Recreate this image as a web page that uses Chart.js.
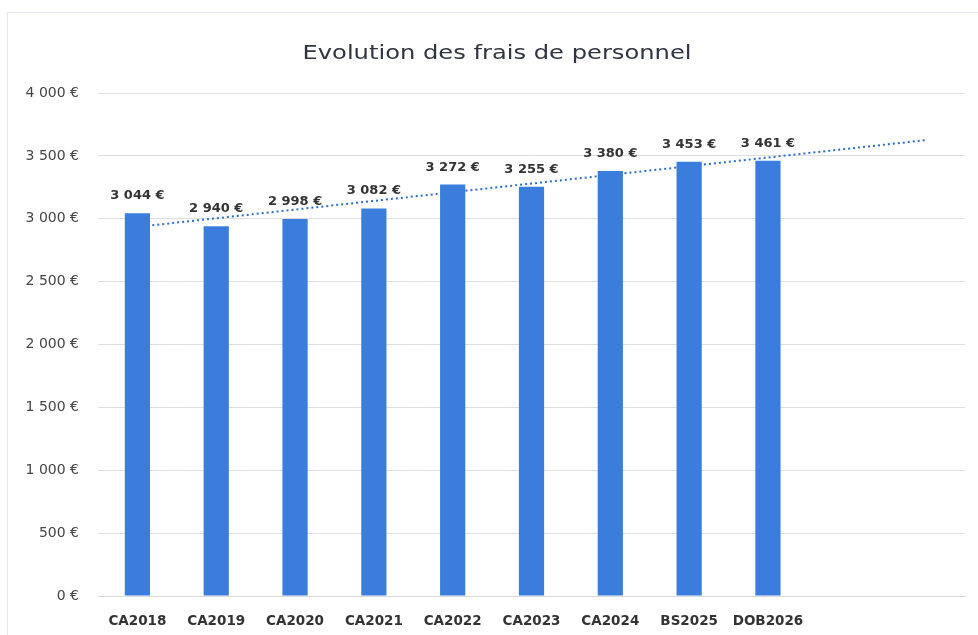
<!DOCTYPE html>
<html><head><meta charset="utf-8">
<script src="https://cdn.jsdelivr.net/npm/chart.js@4/dist/chart.umd.min.js"></script>
<style>
html,body{margin:0;padding:0;background:#fff;}
#wrap{position:relative;width:978px;height:635px;}
</style></head>
<body><div id="wrap"><canvas id="c" width="978" height="635"></canvas></div>
<script>
const categories = ['CA2018','CA2019','CA2020','CA2021','CA2022','CA2023','CA2024','BS2025','DOB2026','',''];
const fraisPersonnel = [3044, 2940, 2998, 3082, 3272, 3255, 3380, 3453, 3461, null, null];
const trendValues = [2935, null, null, null, null, null, null, null, null, null, 3625];
const yTicks = [0, 500, 1000, 1500, 2000, 2500, 3000, 3500, 4000];
const titleText = 'Evolution des frais de personnel';

function fmtEuro(v){
  return String(Math.round(v)).replace(/\B(?=(\d{3})+(?!\d))/g,' ') + ' €';
}

const labelPlugin = {
  id:'barLabels',
  beforeDraw(chart){
    const ctx = chart.ctx;
    ctx.save();
    ctx.strokeStyle = '#e6e8f0';
    ctx.lineWidth = 1;
    ctx.strokeRect(7.5, 12.5, 990, 640);
    ctx.restore();
  },
  afterDatasetsDraw(chart){
    const ctx = chart.ctx;
    const meta = chart.getDatasetMeta(0);
    ctx.save();
    ctx.font = 'bold 13px "DejaVu Sans"';
    ctx.fillStyle = '#333';
    ctx.textAlign = 'center';
    ctx.textBaseline = 'alphabetic';
    meta.data.forEach((el,i)=>{
      const v = fraisPersonnel[i];
      if(v==null) return;
      ctx.fillText(fmtEuro(v), el.x, el.y - 14);
    });
    ctx.restore();
  },
  afterDraw(chart){
    const ctx = chart.ctx;
    ctx.save();
    ctx.font = '19.5px "DejaVu Sans"';
    ctx.fillStyle = '#2f3440';
    ctx.textAlign = 'center';
    ctx.textBaseline = 'alphabetic';
    const w = ctx.measureText(titleText).width;
    const sx = 389 / w;
    ctx.translate(497, 59);
    ctx.scale(sx, 1);
    ctx.fillText(titleText, 0, 0);
    ctx.restore();
  }
};

new Chart(document.getElementById('c'),{
  data:{
    labels:categories,
    datasets:[
      {type:'bar',data:fraisPersonnel,backgroundColor:'#3b7ddd',borderWidth:0,
       categoryPercentage:1,barPercentage:0.32,order:0},
      {type:'line',data:trendValues,spanGaps:true,borderColor:'#2d6cd0',borderWidth:2,
       borderDash:[2,3],pointRadius:0,fill:false,order:1}
    ]
  },
  options:{
    responsive:false,animation:false,
    layout:{padding:{left:0,right:13,top:93,bottom:0}},
    plugins:{
      legend:{display:false},tooltip:{enabled:false},title:{display:false}
    },
    scales:{
      x:{grid:{display:false},border:{color:'#d9d9d9'},
         ticks:{color:'#333',font:{family:'"DejaVu Sans"',size:13.5,weight:'bold'},padding:9,maxRotation:0,autoSkip:false},
         afterFit(s){s.height=39;}},
      y:{min:0,max:4000,
         grid:{color:'#dedede',drawTicks:false},border:{display:false},
         afterBuildTicks(s){s.ticks=yTicks.map(v=>({value:v}));},
         ticks:{color:'#444',font:{family:'"DejaVu Sans"',size:14},padding:19,callback:v=>fmtEuro(v)},
         afterFit(s){s.width=98;}}
    }
  },
  plugins:[labelPlugin]
});
</script></body></html>
